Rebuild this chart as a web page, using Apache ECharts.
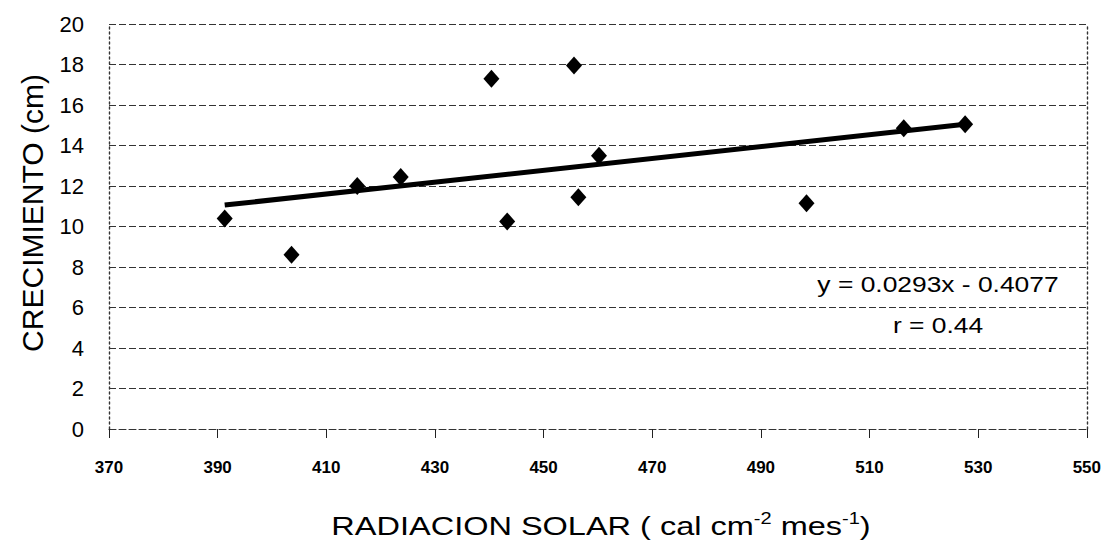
<!DOCTYPE html>
<html>
<head>
<meta charset="utf-8">
<script src="https://cdn.jsdelivr.net/npm/echarts@6/dist/echarts.min.js"></script>
<style>
  html, body { margin: 0; padding: 0; background: #fff; }
  #chart { width: 1104px; height: 545px; }
</style>
</head>
<body>
<div id="chart"></div>
<script>
// Solar radiation (cal cm-2 month-1) vs. growth (cm)
const radiacion = [391.3, 403.6, 415.7, 423.7, 440.4, 443.3, 455.6, 456.4, 460.2, 498.4, 516.3, 527.6];
const crecimiento = [10.4, 8.6, 12.0, 12.45, 17.3, 10.25, 17.95, 11.45, 13.5, 11.15, 14.85, 15.05];

// Linear fit as published: y = 0.0293x - 0.4077, r = 0.44
const pendiente = 0.0293;
const intercepto = -0.4077;
const correlacion = 0.44;

// Axis ranges and tick steps
const xRange = [370, 550];
const xStep = 20;
const yRange = [0, 20];
const yStep = 2;

const FONT = '"Liberation Sans", Arial, sans-serif';

const xMin = Math.min(...radiacion);
const xMax = Math.max(...radiacion);
const tendencia = [xMin, xMax].map(x => [x, pendiente * x + intercepto]);

const ecuacion = 'y = ' + pendiente.toFixed(4) + 'x - ' + Math.abs(intercepto).toFixed(4);
const rTexto = 'r = ' + correlacion.toFixed(2);

const chart = echarts.init(document.getElementById('chart'), null, { renderer: 'svg' });

const gridLine = { color: '#333', width: 1, type: [7, 3] };
const borderLine = { color: '#333', width: 1.4, type: [2, 3] };

chart.setOption({
  animation: false,
  backgroundColor: '#fff',
  grid: { left: 109, right: 17, top: 24, bottom: 116 },
  xAxis: {
    type: 'value',
    min: xRange[0], max: xRange[1], interval: xStep,
    axisLine: { show: true, onZero: false, lineStyle: { color: '#333', width: 1, type: [7, 3] } },
    axisTick: { show: true, length: 9, lineStyle: { color: '#222', width: 1 } },
    axisLabel: { margin: 30, color: '#000', fontSize: 17, fontWeight: 'bold', fontFamily: FONT },
    splitLine: { show: false }
  },
  yAxis: [{
    type: 'value',
    min: yRange[0], max: yRange[1], interval: yStep,
    axisLine: { show: true, lineStyle: borderLine },
    axisTick: { show: false },
    axisLabel: { margin: 25, color: '#000', fontSize: 22, fontFamily: FONT },
    splitLine: { show: true, lineStyle: gridLine }
  }, {
    type: 'value', position: 'right',
    min: yRange[0], max: yRange[1], interval: yStep,
    axisLine: { show: true, lineStyle: borderLine },
    axisTick: { show: false },
    axisLabel: { show: false },
    splitLine: { show: false }
  }],
  series: [{
    type: 'line',
    data: tendencia,
    symbol: 'none',
    lineStyle: { color: '#000', width: 5 },
    z: 2
  }, {
    type: 'scatter',
    data: radiacion.map((x, i) => [x, crecimiento[i]]),
    symbol: 'diamond',
    symbolSize: [16, 18],
    itemStyle: { color: '#000', opacity: 1 },
    z: 3
  }],
  graphic: [{
    type: 'text',
    x: 32, y: 213,
    rotation: Math.PI / 2,
    style: {
      x: 0, y: 0,
      text: 'CRECIMIENTO (cm)',
      fontSize: 30, fontFamily: FONT, fill: '#000',
      align: 'center', verticalAlign: 'middle'
    }
  }, {
    type: 'text',
    x: 601, y: 526,
    scaleX: 1.25,
    style: {
      x: 0, y: 0,
      text: 'RADIACION SOLAR ( cal cm{sup|-2} mes{sup|-1})',
      fontSize: 26, fontFamily: FONT, fill: '#000',
      align: 'center', verticalAlign: 'middle',
      rich: {
        sup: { fontSize: 16, fontFamily: FONT, fill: '#000', verticalAlign: 'top', lineHeight: 30, padding: [0, 0, 14, 0] }
      }
    }
  }, {
    type: 'text',
    x: 938, y: 284,
    scaleX: 1.2,
    style: {
      x: 0, y: 0, text: ecuacion,
      fontSize: 22, fontFamily: FONT, fill: '#000',
      align: 'center', verticalAlign: 'middle'
    }
  }, {
    type: 'text',
    x: 938, y: 325,
    scaleX: 1.2,
    style: {
      x: 0, y: 0, text: rTexto,
      fontSize: 22, fontFamily: FONT, fill: '#000',
      align: 'center', verticalAlign: 'middle'
    }
  }]
});
</script>
</body>
</html>
